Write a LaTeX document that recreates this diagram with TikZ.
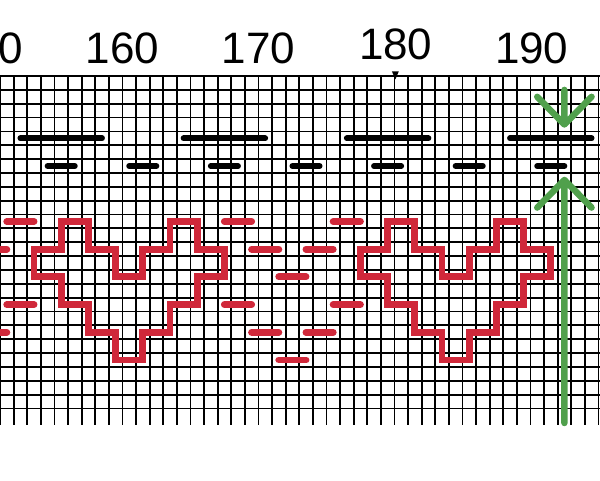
\documentclass[tikz,border=0pt]{standalone}
\usepackage{fontspec}
\setmainfont{Liberation Sans}
\definecolor{stitchRed}{RGB}{208,40,58}
\definecolor{markGreen}{RGB}{80,160,76}

\begin{document}
\begin{tikzpicture}
[x=10.2pt,y=-10.39pt,
gridLine/.style={line width=1.35pt,black},
longBar/.style={line width=4.4pt,line cap=round,black},
shortBar/.style={line width=4.4pt,line cap=round,black},
stitchLine/.style={line width=5.2pt,stitchRed},
stitchDash/.style={line width=5.2pt,line cap=round,stitchRed},
cutMark/.style={line width=4.8pt,line cap=round,line join=round,markGreen},
tickLabel/.style={font=\fontsize{33}{33}\selectfont,inner sep=0pt},
centreMark/.style={fill=black}]
\useasboundingbox (0,-5.487) rectangle (44.118,29.17);

\foreach \i in {0,...,44} \draw[gridLine] (\i,0) -- (\i,25.2);
\foreach \j in {0,...,24} \draw[gridLine] (0,\j) -- (44.118,\j);

\node[tickLabel] (l150) at (-1,-1.97) {150};
\node[tickLabel] (l160) at (9,-1.97) {160};
\node[tickLabel] (l170) at (19,-1.97) {170};
\node[tickLabel] (l180) at (29.1,-2.31) {180};
\node[tickLabel] (l190) at (39.1,-1.97) {190};
\fill[centreMark] (28.82,-0.33) -- (29.32,-0.33) -- (29.07,0.25) -- cycle;

\foreach \s in {0,12,24,36} \draw[longBar] (1.5+\s,4.5) -- (7.5+\s,4.5);
\foreach \s in {0,6,...,36} \draw[shortBar] (3.5+\s,6.5) -- (5.5+\s,6.5);

\foreach \s in {0,24}
\draw[stitchLine,shift={(\s,0)}] (2.5,12.5) -- (4.5,12.5) -- (4.5,10.5) -- (6.5,10.5) -- (6.5,12.5)
 -- (8.5,12.5) -- (8.5,14.5) -- (10.5,14.5) -- (10.5,12.5) -- (12.5,12.5) -- (12.5,10.5)
 -- (14.5,10.5) -- (14.5,12.5) -- (16.5,12.5) -- (16.5,14.5) -- (14.5,14.5) -- (14.5,16.5)
 -- (12.5,16.5) -- (12.5,18.5) -- (10.5,18.5) -- (10.5,20.5) -- (8.5,20.5) -- (8.5,18.5)
 -- (6.5,18.5) -- (6.5,16.5) -- (4.5,16.5) -- (4.5,14.5) -- (2.5,14.5) -- cycle;

\foreach \s in {-24,0}
\foreach \t in {0,6}
\draw[stitchDash,shift={(\s,\t)}] (16.5,10.5) -- (18.5,10.5) (24.5,10.5) -- (26.5,10.5)
 (18.5,12.5) -- (20.5,12.5) (22.5,12.5) -- (24.5,12.5) (20.5,14.5) -- (22.5,14.5);

\draw[cutMark] (41.5,1) -- (41.5,3.5) (39.5,1.5) -- (41.5,3.5) -- (43.5,1.5);
\draw[cutMark] (41.5,25.05) -- (41.5,7.5) (39.5,9.5) -- (41.5,7.5) -- (43.5,9.5);
\end{tikzpicture}
\end{document}
